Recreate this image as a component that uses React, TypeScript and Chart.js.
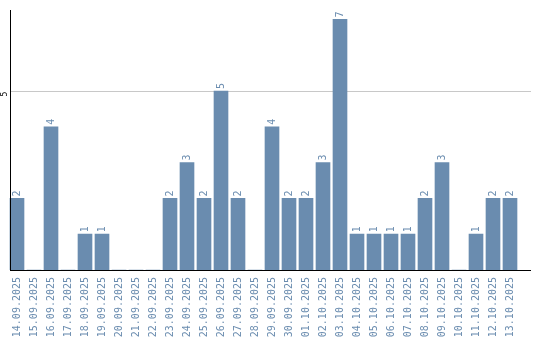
import React, { useEffect, useRef } from "react";
import { Chart, registerables } from "chart.js";

Chart.register(...registerables);

const dates: string[] = [
  "14.09.2025", "15.09.2025", "16.09.2025", "17.09.2025", "18.09.2025",
  "19.09.2025", "20.09.2025", "21.09.2025", "22.09.2025", "23.09.2025",
  "24.09.2025", "25.09.2025", "26.09.2025", "27.09.2025", "28.09.2025",
  "29.09.2025", "30.09.2025", "01.10.2025", "02.10.2025", "03.10.2025",
  "04.10.2025", "05.10.2025", "06.10.2025", "07.10.2025", "08.10.2025",
  "09.10.2025", "10.10.2025", "11.10.2025", "12.10.2025", "13.10.2025",
];

const counts: number[] = [
  2, 0, 4, 0, 1, 1, 0, 0, 0, 2,
  3, 2, 5, 2, 0, 4, 2, 2, 3, 7,
  1, 1, 1, 1, 2, 3, 0, 1, 2, 2,
];

const yTickLabels: number[] = [5];
const yMax = 7.263;

const BAR_COLOR = "#6a8caf";
const TEXT_COLOR = "#6a8caf";
const MONO = "DejaVu Sans Mono";

const decorPlugin = {
  id: "decor",
  beforeDatasetsDraw(chart: any) {
    const { ctx, chartArea, scales } = chart;
    const y = scales.y;
    ctx.save();
    ctx.fillStyle = "#c8c8c8";
    for (const v of yTickLabels) {
      const py = Math.round(y.getPixelForValue(v));
      ctx.fillRect(11, py, 531 - 11, 1);
    }
    ctx.restore();
  },
  afterDatasetsDraw(chart: any) {
    const { ctx, chartArea, scales } = chart;
    const y = scales.y;
    const meta = chart.getDatasetMeta(0);
    ctx.save();
    // value labels
    ctx.fillStyle = TEXT_COLOR;
    ctx.font = `10px "${MONO}"`;
    ctx.textAlign = "left";
    ctx.textBaseline = "middle";
    meta.data.forEach((bar: any, i: number) => {
      const v = counts[i];
      if (!v) return;
      ctx.save();
      ctx.translate(bar.x, bar.y - 2);
      ctx.rotate(-Math.PI / 2);
      ctx.fillText(String(v), 0, 0);
      ctx.restore();
    });
    // axes lines
    ctx.fillStyle = "#000000";
    const bottom = Math.round(y.getPixelForValue(0));
    ctx.fillRect(10, Math.round(chartArea.top), 1, bottom - Math.round(chartArea.top) + 1);
    ctx.fillRect(10, bottom, 531 - 10, 1);
    // y tick labels
    ctx.font = `8px "${MONO}"`;
    ctx.textAlign = "center";
    ctx.textBaseline = "middle";
    for (const v of yTickLabels) {
      const py = y.getPixelForValue(v);
      ctx.save();
      ctx.translate(4.5, py + 3);
      ctx.rotate(-Math.PI / 2);
      ctx.fillText(String(v), 0, 0);
      ctx.restore();
    }
    ctx.restore();
  },
};

export default function App() {
  const ref = useRef<HTMLCanvasElement | null>(null);

  useEffect(() => {
    document.body.style.margin = "0";
    if (!ref.current) return;
    const chart = new Chart(ref.current, {
      type: "bar",
      data: {
        labels: dates,
        datasets: [
          {
            data: counts,
            backgroundColor: BAR_COLOR,
            borderWidth: 0,
            barThickness: 14,
          },
        ],
      },
      options: {
        responsive: false,
        animation: false,
        layout: { padding: { left: 8.5, right: 21.5, top: 10, bottom: 0 } },
        plugins: {
          legend: { display: false },
          tooltip: { enabled: false },
        },
        scales: {
          x: {
            type: "category",
            offset: true,
            grid: { display: false, drawTicks: false },
            border: { display: false },
            ticks: {
              autoSkip: false,
              minRotation: 90,
              maxRotation: 90,
              padding: 7,
              color: TEXT_COLOR,
              font: { family: MONO, size: 10 },
            },
            afterFit: (scale: any) => {
              scale.height = 70;
            },
          },
          y: {
            display: false,
            min: 0,
            max: yMax,
          },
        },
      },
      plugins: [decorPlugin],
    });
    return () => chart.destroy();
  }, []);

  return (
    <div style={{ position: "absolute", left: 0, top: 0, width: 540, height: 340 }}>
      <canvas ref={ref} width={540} height={340} />
    </div>
  );
}
